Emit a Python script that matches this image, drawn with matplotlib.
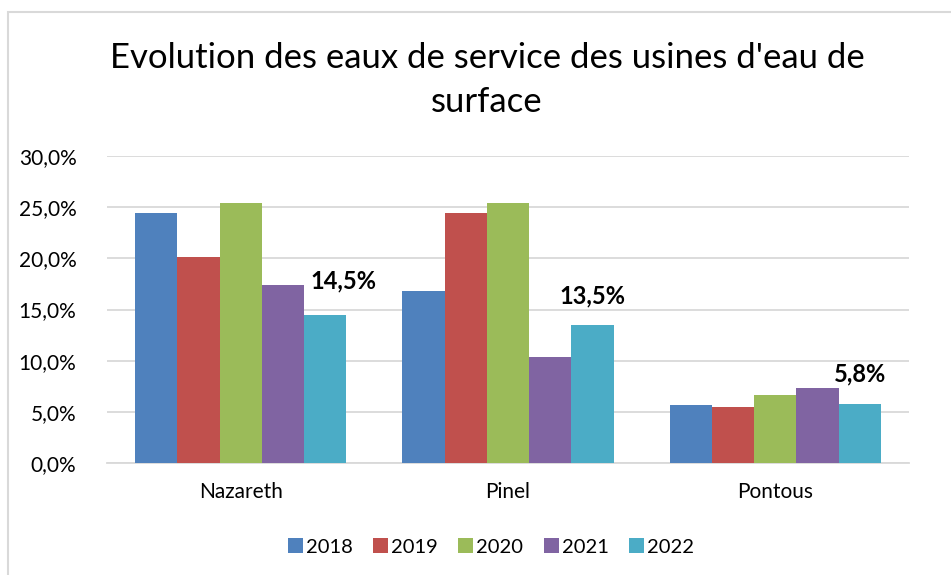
import matplotlib.pyplot as plt
import numpy as np
from matplotlib.patches import Rectangle

plt.rcParams["font.family"] = ["Lato", "DejaVu Sans"]

categories = ["Nazareth", "Pinel", "Pontous"]
years = ["2018", "2019", "2020", "2021", "2022"]
v2018 = [24.4, 16.8, 5.7]
v2019 = [20.1, 24.4, 5.5]
v2020 = [25.4, 25.4, 6.6]
v2021 = [17.4, 10.4, 7.3]
v2022 = [14.5, 13.5, 5.8]
labels_2022 = ["14,5%", "13,5%", "5,8%"]
colors = ["#4F81BD", "#C0504D", "#9BBB59", "#8064A2", "#4BACC6"]

series = [v2018, v2019, v2020, v2021, v2022]

fig = plt.figure(figsize=(9.51, 5.75), dpi=100)
fig.patches.append(Rectangle((8 / 951, -0.1), 1.2, (575 - 12) / 575 + 0.1,
                             transform=fig.transFigure, fill=False,
                             edgecolor="#D9D9D9", linewidth=1.5))

ax = fig.add_axes([107 / 951, (575 - 463) / 575, (909 - 107) / 951, (463 - 156) / 575])
x = np.arange(len(categories))
w = 0.158
for i, (vals, col, yr) in enumerate(zip(series, colors, years)):
    ax.bar(x + (i - 2) * w, vals, width=w, color=col, label=yr, zorder=3)

# label nudges (Nazareth label pushed right/up to clear the purple bar)
dx = [0.07, 0.0, 0.0]
dy = [3.3, 2.8, 2.9]
for xi, v, lab, ox, oy in zip(x, v2022, labels_2022, dx, dy):
    ax.text(xi + 2 * w + ox, v + oy, lab, ha="center", va="center",
            fontsize=17, fontweight="bold")

ax.set_xlim(-0.5, 2.5)
ax.set_ylim(0, 30)
ax.set_yticks(np.arange(0, 31, 5))
ax.set_yticklabels([f"{t:.1f}".replace(".", ",") + "%" for t in range(0, 31, 5)])
ax.set_xticks(x)
ax.set_xticklabels(categories)
ax.yaxis.grid(True, color="#D9D9D9", linewidth=1.3, zorder=0)
ax.set_axisbelow(True)
for s in ["top", "right", "left"]:
    ax.spines[s].set_visible(False)
ax.spines["bottom"].set_color("#D9D9D9")
ax.spines["bottom"].set_linewidth(1.3)
ax.tick_params(axis="both", length=0, labelsize=15, colors="black")
ax.tick_params(axis="x", pad=14)
ax.tick_params(axis="y", pad=22)

fig.text(487 / 951, 1 - 58 / 575, "Evolution des eaux de service des usines d'eau de",
         ha="center", va="center", fontsize=25)
fig.text(487 / 951, 1 - 102 / 575, "surface", ha="center", va="center", fontsize=25)

ax.legend(loc="center", bbox_to_anchor=(491 / 951, 1 - 547 / 575),
          bbox_transform=fig.transFigure, ncol=5, frameon=False, fontsize=14.5,
          handlelength=0.75, handleheight=0.75, handletextpad=0.15, columnspacing=1.0)

fig.savefig("out.png", dpi=100, facecolor="white")
